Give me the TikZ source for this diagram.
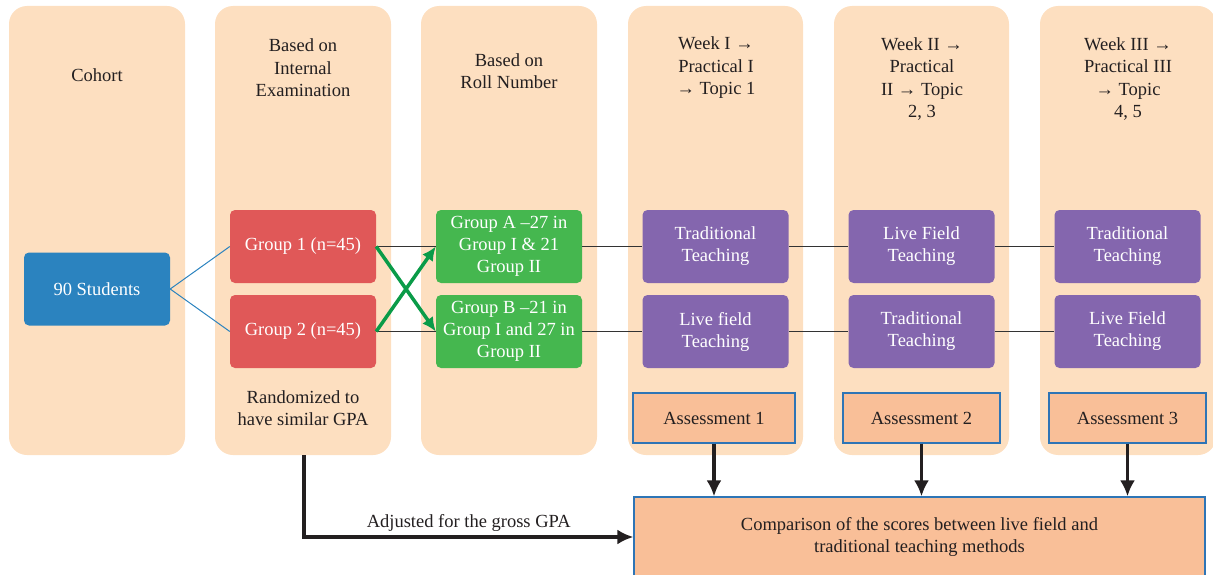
\documentclass[tikz,border=0pt]{standalone}
\usepackage{fontspec}
\setmainfont{Liberation Serif}
\usetikzlibrary{arrows.meta}
\newlength{\du}
\setlength{\du}{1pt}
\definecolor{colbg}{RGB}{253,223,192}
\definecolor{txtcolor}{RGB}{35,31,32}
\definecolor{stublue}{RGB}{43,131,191}
\definecolor{grpred}{RGB}{224,88,88}
\definecolor{grpgreen}{RGB}{69,183,79}
\definecolor{arrgreen}{RGB}{10,155,72}
\definecolor{teachpurple}{RGB}{132,102,174}
\definecolor{assesscolor}{RGB}{249,191,152}
\definecolor{bordercolor}{RGB}{46,117,182}
\tikzset{
  head/.style={align=center, text=txtcolor, font=\fontsize{18.5}{22.5}\selectfont},
  box/.style={rounded corners=5\du, minimum width=146\du, minimum height=73\du,
    align=center, text=white, inner sep=1pt, font=\fontsize{18.5}{22}\selectfont},
  assess/.style={draw=bordercolor, line width=1.2\du, fill=assesscolor, text=txtcolor,
    minimum height=50\du, align=center, font=\fontsize{18.5}{22.5}\selectfont},
  bline/.style={draw=stublue, line width=1\du},
  gline/.style={draw=black!80, line width=1.4\du},
  garrow/.style={draw=arrgreen, line width=3.5\du, -{Latex[length=14pt,width=13pt]}},
  karrow/.style={draw=txtcolor, line width=3.5\du, -{Latex[length=16pt,width=15pt]}}
}
\begin{document}
\begin{tikzpicture}
\pgftransformyscale{-1.000000}
\useasboundingbox (0\du,0\du) rectangle (1213\du,575\du);
% columns
\fill[colbg, rounded corners=18\du] (9\du,6\du) rectangle (185\du,455\du);
\fill[colbg, rounded corners=18\du] (215\du,6\du) rectangle (391\du,455\du);
\fill[colbg, rounded corners=18\du] (421\du,6\du) rectangle (597\du,455\du);
\fill[colbg, rounded corners=18\du] (628\du,6\du) rectangle (803\du,455\du);
\fill[colbg, rounded corners=18\du] (834\du,6\du) rectangle (1009\du,455\du);
\fill[colbg, rounded corners=18\du] (1040\du,6\du) rectangle (1216\du,455\du);
% headers
\node[head] (cohort) at (97\du,75\du) {Cohort};
\node[head] (exam) at (303\du,68\du) {Based on\\Internal\\Examination};
\node[head] (roll) at (509\du,71\du) {Based on\\Roll Number};
\node[head] (week1) at (716\du,68\du) {Week I →\\Practical I\\→ Topic 1};
\node[head] (week2) at (922\du,79\du) {Week II →\\Practical\\II → Topic\\2, 3};
\node[head] (week3) at (1128\du,79\du) {Week III →\\Practical III\\→ Topic\\4, 5};
\node[head] (random) at (303\du,408\du) {Randomized to\\have similar GPA};
% groups
\node[box, fill=stublue] (students) at (97\du,289\du) {90 Students};
\node[box, fill=grpred] (group1) at (303\du,246.5\du) {Group 1 (n=45)};
\node[box, fill=grpred] (group2) at (303\du,331.5\du) {Group 2 (n=45)};
\node[box, fill=grpgreen] (groupA) at (509\du,246.5\du) {Group A –27 in\\Group I \& 21\\Group II};
\node[box, fill=grpgreen] (groupB) at (509\du,331.5\du) {Group B –21 in\\Group I and 27 in\\Group II};
% teaching
\node[box, fill=teachpurple] (trad1) at (715.5\du,246.5\du) {Traditional\\Teaching};
\node[box, fill=teachpurple] (live1) at (715.5\du,331.5\du) {Live field\\Teaching};
\node[box, fill=teachpurple] (live2) at (921.5\du,246.5\du) {Live Field\\Teaching};
\node[box, fill=teachpurple] (trad2) at (921.5\du,331.5\du) {Traditional\\Teaching};
\node[box, fill=teachpurple] (trad3) at (1127.5\du,246.5\du) {Traditional\\Teaching};
\node[box, fill=teachpurple] (live3) at (1127.5\du,331.5\du) {Live Field\\Teaching};
% assessments
\node[assess, minimum width=162\du] (assess1) at (714\du,418\du) {Assessment 1};
\node[assess, minimum width=157\du] (assess2) at (921.5\du,418\du) {Assessment 2};
\node[assess, minimum width=157\du] (assess3) at (1127.5\du,418\du) {Assessment 3};
\node[assess, minimum width=571\du, minimum height=80\du] (compare) at (919.5\du,537\du) {Comparison of the scores between live field and\\traditional teaching methods};
% connectors
\draw[bline] (students.east) -- (group1.west);
\draw[bline] (students.east) -- (group2.west);
\draw[gline] (group1.east) -- (groupA.west);
\draw[gline] (group2.east) -- (groupB.west);
\draw[gline] (groupA.east) -- (trad1.west);
\draw[gline] (groupB.east) -- (live1.west);
\draw[gline] (trad1.east) -- (live2.west);
\draw[gline] (live1.east) -- (trad2.west);
\draw[gline] (live2.east) -- (trad3.west);
\draw[gline] (trad2.east) -- (live3.west);
\draw[garrow] (group1.east) -- (groupB.west);
\draw[garrow] (group2.east) -- (groupA.west);
\draw[karrow] (assess1.south) -- (assess1.south |- compare.north);
\draw[karrow] (assess2.south) -- (assess2.south |- compare.north);
\draw[karrow] (assess3.south) -- (assess3.south |- compare.north);
\coordinate (gpa) at (304\du,455\du);
\draw[karrow] (gpa) |- (compare.west) node[pos=0.75, above, text=txtcolor, font=\fontsize{18.5}{22.5}\selectfont] {Adjusted for the gross GPA};
\end{tikzpicture}
\end{document}
